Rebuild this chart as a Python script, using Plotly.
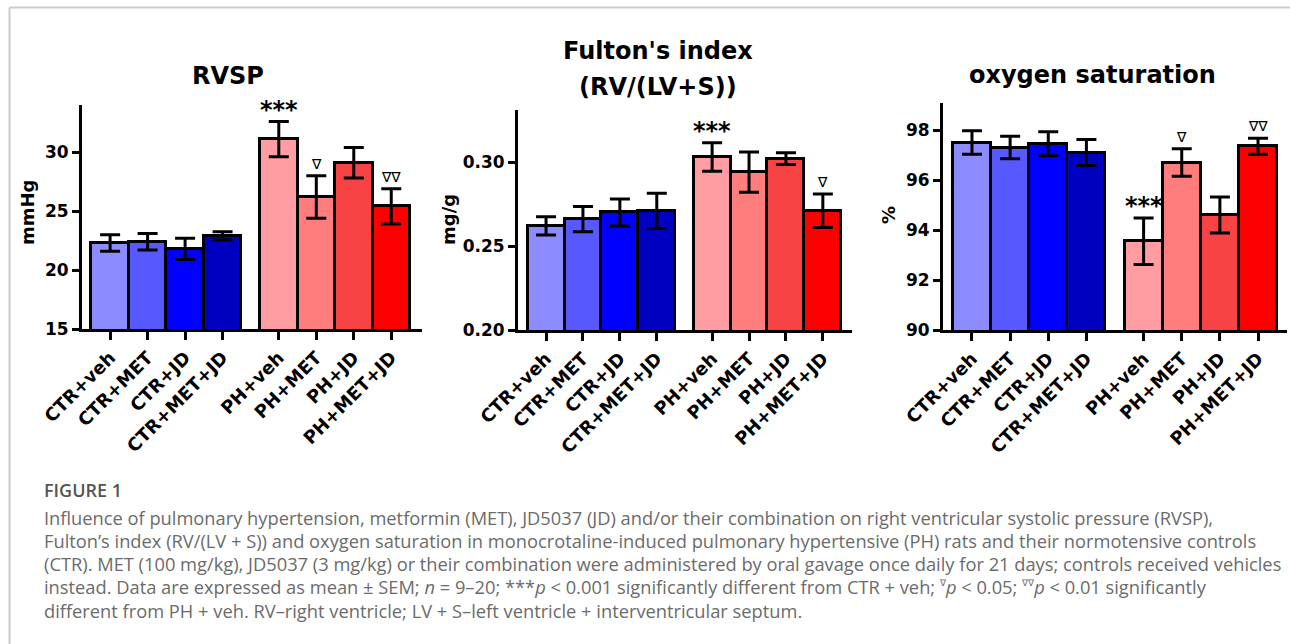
import plotly.graph_objects as go

W, H = 1290, 644

categories = ["CTR+veh", "CTR+MET", "CTR+JD", "CTR+MET+JD",
              "PH+veh", "PH+MET", "PH+JD", "PH+MET+JD"]
groups = ["CTR", "CTR", "CTR", "CTR", "PH", "PH", "PH", "PH"]

rvsp_mean = [22.3, 22.4, 21.8, 22.9, 31.1, 26.2, 29.1, 25.4]
rvsp_sem = [0.7, 0.7, 0.9, 0.35, 1.5, 1.8, 1.3, 1.5]
rvsp_marks = ["", "", "", "", "***", "∇", "", "∇∇"]

fulton_mean = [0.262, 0.266, 0.270, 0.271, 0.303, 0.294, 0.302, 0.271]
fulton_sem = [0.0055, 0.0075, 0.008, 0.0105, 0.0085, 0.012, 0.0035, 0.010]
fulton_marks = ["", "", "", "", "***", "", "", "∇"]

o2_mean = [97.5, 97.3, 97.45, 97.1, 93.55, 96.7, 94.6, 97.35]
o2_sem = [0.47, 0.45, 0.48, 0.52, 0.93, 0.55, 0.72, 0.32]
o2_marks = ["", "", "", "", "***", "∇", "", "∇∇"]

bar_colors = ["#8c8cff", "#5858ff", "#0000ff", "#0000c0",
              "#ff9da3", "#ff7d7d", "#f74343", "#fc0000"]

SUP1 = '<sup><span style="font-size:9px">∇</span></sup>'
SUP2 = '<sup><span style="font-size:9px">∇∇</span></sup>'
caption_lines = [
    "Influence of pulmonary hypertension, metformin (MET), JD5037 (JD) and/or their combination on right ventricular systolic pressure (RVSP),",
    "Fulton’s index (RV/(LV + S)) and oxygen saturation in monocrotaline-induced pulmonary hypertensive (PH) rats and their normotensive controls",
    "(CTR). MET (100 mg/kg), JD5037 (3 mg/kg) or their combination were administered by oral gavage once daily for 21 days; controls received vehicles",
    "instead. Data are expressed as mean ± SEM; <i>n</i> = 9–20; ***<i>p</i> &lt; 0.001 significantly different from CTR + veh; "
    + SUP1 + "<i>p</i> &lt; 0.05; " + SUP2 + "<i>p</i> &lt; 0.01 significantly",
    "different from PH + veh. RV–right ventricle; LV + S–left ventricle + interventricular septum.",
]

# positions: groups separated by half a bar
pos = [i + 0.5 * (g == "PH") for i, g in enumerate(groups)]


def px(x):
    return x / W


def py(y):
    return 1 - y / H


panels = [
    dict(mean=rvsp_mean, sem=rvsp_sem, marks=rvsp_marks, xdom=(82, 422), ydom=(105, 329),
         yrange=[15, 34], ytick=[15, 20, 25, 30], fmt="d", xrange=[-0.75, 8.32]),
    dict(mean=fulton_mean, sem=fulton_sem, marks=fulton_marks, xdom=(518, 852), ydom=(110, 330),
         yrange=[0.20, 0.331], ytick=[0.20, 0.25, 0.30], fmt=".2f", xrange=[-0.76, 8.29]),
    dict(mean=o2_mean, sem=o2_sem, marks=o2_marks, xdom=(943, 1287), ydom=(103, 330),
         yrange=[90, 99.08], ytick=[90, 92, 94, 96, 98], fmt="d", xrange=[-0.76, 8.26]),
]

fig = go.Figure()
ytick_font = dict(family="DejaVu Sans", size=17, color="black", weight="bold")
xtick_font = dict(family="DejaVu Sans", size=18, color="black", weight="bold")
annotations = []

for k, p in enumerate(panels):
    suffix = "" if k == 0 else str(k + 1)
    fig.add_trace(go.Bar(
        x=pos, y=p["mean"], width=1.0,
        marker=dict(color=bar_colors, line=dict(color="black", width=3)),
        error_y=dict(type="data", array=p["sem"], visible=True, color="black",
                     thickness=3, width=10),
        xaxis="x" + suffix, yaxis="y" + suffix, showlegend=False,
        hoverinfo="skip",
    ))
    xa = dict(domain=[px(p["xdom"][0]), px(p["xdom"][1])], range=p["xrange"],
              tickvals=pos, ticktext=categories, tickangle=-45, automargin=False,
              showline=True, linewidth=3, linecolor="black", ticks="outside",
              ticklen=8, tickwidth=3, tickcolor="black", showgrid=False, zeroline=False,
              tickfont=xtick_font, anchor="y" + suffix, fixedrange=True)
    ya = dict(domain=[py(p["ydom"][1]), py(p["ydom"][0])], range=p["yrange"],
              tickvals=p["ytick"], tickformat=p["fmt"], automargin=False,
              showline=True, linewidth=3, linecolor="black", ticks="outside",
              ticklen=7, tickwidth=3, tickcolor="black", showgrid=False, zeroline=False,
              tickfont=ytick_font, anchor="x" + suffix, fixedrange=True)
    fig.update_layout(**{"xaxis" + suffix: xa, "yaxis" + suffix: ya})
    for xi, m, s, mk in zip(pos, p["mean"], p["sem"], p["marks"]):
        if not mk:
            continue
        star = mk.startswith("*")
        annotations.append(dict(
            x=xi, y=m + s, xref="x" + suffix, yref="y" + suffix,
            text=mk, showarrow=False, yanchor="bottom", xanchor="center",
            yshift=-4 if star else 2,
            font=dict(family="DejaVu Sans", size=24 if star else 14, color="black",
                      weight="bold" if star else "normal"),
        ))

title_font = dict(family="DejaVu Sans", size=24, color="black", weight="bold")
titles = [("RVSP", 228, 76), ("Fulton's index", 658, 51), ("(RV/(LV+S))", 658, 87),
          ("oxygen saturation", 1092, 75)]
for t, x, y in titles:
    annotations.append(dict(x=px(x), y=py(y), xref="paper", yref="paper", text=t,
                            showarrow=False, xanchor="center", yanchor="middle", font=title_font))

ylabels = [("mmHg", 27, 213), ("mg/g", 448, 220), ("%", 888, 215)]
for t, x, y in ylabels:
    annotations.append(dict(x=px(x), y=py(y), xref="paper", yref="paper", text=t,
                            textangle=-90, showarrow=False, xanchor="center", yanchor="middle",
                            font=dict(family="DejaVu Sans", size=18, color="black", weight="bold")))

annotations.append(dict(x=px(42), y=py(490), xref="paper", yref="paper", text="FIGURE 1",
                        showarrow=False, xanchor="left", yanchor="middle",
                        font=dict(family="Open Sans", size=18, color="#555555", weight=600)))
for i, line in enumerate(caption_lines):
    annotations.append(dict(x=px(42), y=py(517 + i * 23.3), xref="paper", yref="paper",
                            text=line, showarrow=False, xanchor="left", yanchor="middle",
                            font=dict(family="Open Sans", size=18.3, color="#6b6b6b")))

shapes = [
    dict(type="line", xref="paper", yref="paper", x0=px(9.5), x1=1, y0=py(7.5), y1=py(7.5),
         line=dict(color="#cccccc", width=2)),
    dict(type="line", xref="paper", yref="paper", x0=px(9.5), x1=px(9.5), y0=py(7.5), y1=0,
         line=dict(color="#cccccc", width=2)),
]

fig.update_layout(width=W, height=H, margin=dict(l=0, r=0, t=0, b=0, autoexpand=False),
                  paper_bgcolor="white", plot_bgcolor="white",
                  annotations=annotations, shapes=shapes, bargap=0)

fig.write_html("out.html", config={"displayModeBar": False},
               post_script="document.body.style.margin='0';document.body.style.overflow='hidden';")
